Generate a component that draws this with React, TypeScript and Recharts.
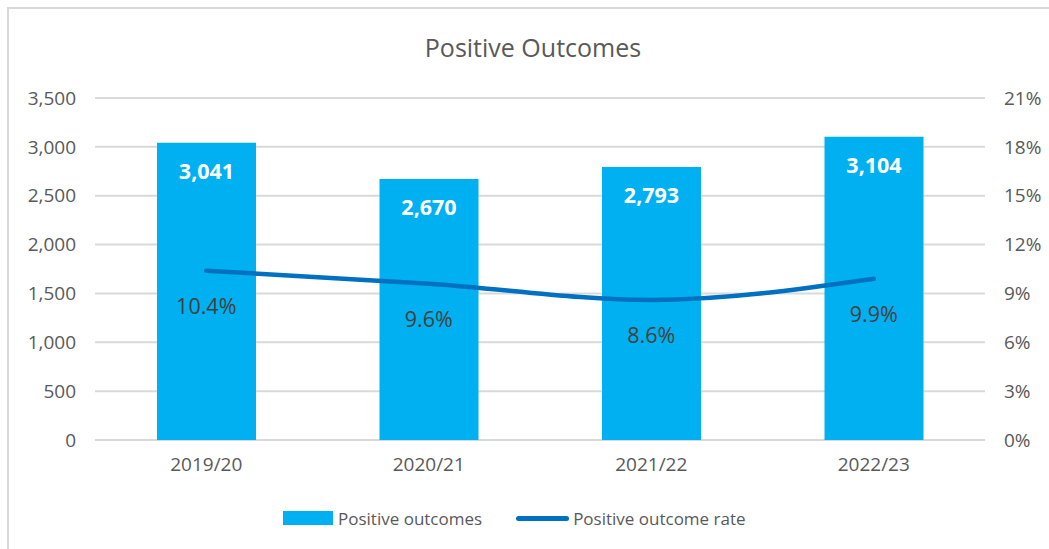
import React from "react"
import {
  ComposedChart,
  Bar,
  Line,
  XAxis,
  YAxis,
  CartesianGrid,
  Legend,
  LabelList,
} from "recharts"

const years = ["2019/20", "2020/21", "2021/22", "2022/23"]
const outcomes = [3041, 2670, 2793, 3104]
const rates = [10.4, 9.6, 8.6, 9.9]
const countTicks = [0, 500, 1000, 1500, 2000, 2500, 3000, 3500]
const rateTicks = [0, 3, 6, 9, 12, 15, 18, 21]

const BAR_COLOR = "#00B0F0"
const LINE_COLOR = "#0070C0"
const TEXT_COLOR = "#595959"
const FONT = "'Open Sans', 'Noto Sans', sans-serif"

const data = years.map((year, i) => ({
  year,
  outcomes: outcomes[i],
  rate: rates[i],
}))

const BarValue = (props: any) => {
  const { x, y, width, value } = props
  return (
    <text
      x={x + width / 2}
      y={y + 27.5}
      textAnchor="middle"
      dominantBaseline="central"
      fill="#ffffff"
      fontWeight={700}
      fontSize={21.5}
      fontFamily={FONT}
    >
      {value.toLocaleString("en-GB")}
    </text>
  )
}

const RateValue = (props: any) => {
  const { x, y, value } = props
  return (
    <text
      x={x}
      y={y + 34.5}
      textAnchor="middle"
      dominantBaseline="central"
      fill="#404040"
      fontSize={21.5}
      fontFamily={FONT}
    >
      {value.toFixed(1)}%
    </text>
  )
}

// legend drawn by hand so the swatches look like Excel's
const LegendContent = () => (
  <div
    style={{
      height: 30,
      display: "flex",
      alignItems: "center",
      paddingLeft: 283,
      fontFamily: FONT,
      fontSize: 17,
      color: TEXT_COLOR,
    }}
  >
    <span style={{ width: 50, height: 14, background: BAR_COLOR, marginRight: 5 }} />
    <span style={{ marginRight: 34 }}>Positive outcomes</span>
    <span
      style={{
        width: 53,
        height: 5,
        borderRadius: 3,
        background: LINE_COLOR,
        marginRight: 4,
      }}
    />
    <span>Positive outcome rate</span>
  </div>
)

export default function App() {
  const tick = { fontSize: 19, fill: TEXT_COLOR, fontFamily: FONT }
  return (
    <div
      style={{
        position: "absolute",
        left: 0,
        top: 0,
        width: 1049,
        height: 549,
        background: "#ffffff",
        fontFamily: FONT,
      }}
    >
      <div
        style={{
          position: "absolute",
          left: 7,
          top: 7,
          width: 1042,
          height: 542,
          borderTop: "2px solid #d9d9d9",
          borderLeft: "2px solid #d9d9d9",
          boxSizing: "border-box",
        }}
      />
      <div
        style={{
          position: "absolute",
          left: 0,
          top: 35,
          width: 1066,
          textAlign: "center",
          fontSize: 25,
          lineHeight: "25px",
          color: TEXT_COLOR,
        }}
      >
        Positive Outcomes
      </div>
      <div style={{ position: "absolute", left: 0, top: 0 }}>
        <ComposedChart
          width={1049}
          height={549}
          data={data}
          margin={{ top: 98, right: 0, bottom: 16, left: 0 }}
        >
          <CartesianGrid
            vertical={false}
            stroke="#d9d9d9"
            strokeWidth={2}
            yAxisId="count"
          />
          <XAxis
            dataKey="year"
            axisLine={false}
            tickLine={false}
            tickSize={0}
            tickMargin={18}
            height={63}
            tick={tick}
          />
          <YAxis
            yAxisId="count"
            domain={[0, 3500]}
            ticks={countTicks}
            tickFormatter={(v: number) => v.toLocaleString("en-GB")}
            axisLine={false}
            tickLine={false}
            tickSize={0}
            tickMargin={19}
            width={95}
            tick={tick}
          />
          <YAxis
            yAxisId="rate"
            orientation="right"
            domain={[0, 21]}
            ticks={rateTicks}
            tickFormatter={(v: number) => `${v}%`}
            axisLine={false}
            tickLine={false}
            tickSize={0}
            tickMargin={19}
            width={64}
            tick={{ ...tick, textAnchor: "start" }}
          />
          <Legend verticalAlign="bottom" content={<LegendContent />} />
          <Bar
            yAxisId="count"
            dataKey="outcomes"
            name="Positive outcomes"
            fill={BAR_COLOR}
            barSize={99}
            isAnimationActive={false}
          >
            <LabelList dataKey="outcomes" content={<BarValue />} />
          </Bar>
          <Line
            yAxisId="rate"
            dataKey="rate"
            name="Positive outcome rate"
            type="monotone"
            stroke={LINE_COLOR}
            strokeWidth={4.5}
            strokeLinecap="round"
            dot={false}
            activeDot={false}
            isAnimationActive={false}
          >
            <LabelList dataKey="rate" content={<RateValue />} />
          </Line>
        </ComposedChart>
      </div>
    </div>
  )
}
